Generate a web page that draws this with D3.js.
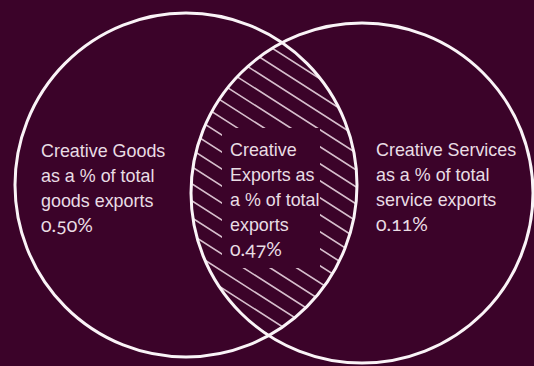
<!DOCTYPE html>
<html><head><meta charset="utf-8">
<script src="https://cdn.jsdelivr.net/npm/d3@7/dist/d3.min.js"></script>
<style>
html,body{margin:0;padding:0;background:#3b0329;}
svg{display:block;}
.lbl{font-family:"Liberation Sans",Arial,sans-serif;font-size:17.9px;fill:#e9dde4;}
.val{font-family:Lato,"Liberation Sans",sans-serif;font-size:19.5px;font-variant-numeric:oldstyle-nums;font-feature-settings:"onum" 1;}
</style></head>
<body><svg id="c" width="534" height="366"></svg>
<script>
// Data
const setNames = ["Creative Goods", "Creative Services"];
const regionLabels = [
  ["Creative Goods", "as a % of total", "goods exports"],
  ["Creative", "Exports as", "a % of total", "exports"],
  ["Creative Services", "as a % of total", "service exports"]
];
const regionValues = [0.50, 0.47, 0.11];

const W = 534, H = 366;
const svg = d3.select("#c");
const x = d3.scaleLinear().domain([0, 534]).range([0, W]);
const y = d3.scaleLinear().domain([0, 366]).range([0, H]);

// circle layout (one per set)
const circles = [
  {name: setNames[0], cx: 186, cy: 185, rx: 171, ry: 172},
  {name: setNames[1], cx: 362, cy: 193, rx: 171, ry: 170}
];

const defs = svg.append("defs");
circles.forEach((c, i) => {
  defs.append("clipPath").attr("id", "clip" + i)
    .append("ellipse").attr("cx", x(c.cx)).attr("cy", y(c.cy)).attr("rx", c.rx).attr("ry", c.ry);
});
const mask = defs.append("mask").attr("id", "txtmask");
mask.append("rect").attr("width", W).attr("height", H).attr("fill", "#fff");
mask.append("rect").attr("x", x(222)).attr("y", y(128)).attr("width", 98).attr("height", 140).attr("fill", "#000");

// hatch in intersection
const hg = svg.append("g").attr("clip-path", "url(#clip0)")
  .append("g").attr("clip-path", "url(#clip1)")
  .append("g").attr("mask", "url(#txtmask)");
const slope = 0.64;
const offsets = d3.range(-200, 400, 17);
hg.selectAll("line").data(offsets).join("line")
  .attr("x1", x(150)).attr("y1", d => y(d))
  .attr("x2", x(400)).attr("y2", d => y(d + 250 * slope))
  .attr("stroke", "#d7bfcd").attr("stroke-width", 1.6).attr("stroke-linecap", "round");

// circles
svg.selectAll("ellipse.set").data(circles).join("ellipse").attr("class", "set")
  .attr("cx", d => x(d.cx)).attr("cy", d => y(d.cy)).attr("rx", d => d.rx).attr("ry", d => d.ry)
  .attr("fill", "none").attr("stroke", "#faf4f7").attr("stroke-width", 3);

// labels
const pos = [{x: 41, y: 157}, {x: 230, y: 156}, {x: 376, y: 156}];
const lh = 25;
regionLabels.forEach((lines, i) => {
  const t = svg.append("text").attr("class", "lbl");
  lines.forEach((l, j) => {
    t.append("tspan").attr("x", x(pos[i].x)).attr("y", y(pos[i].y + j * lh)).text(l);
  });
  t.append("tspan").attr("class", "val").attr("x", x(pos[i].x)).attr("y", y(pos[i].y + lines.length * lh))
    .text(d3.format(".2f")(regionValues[i]) + "%");
});
</script></body></html>
